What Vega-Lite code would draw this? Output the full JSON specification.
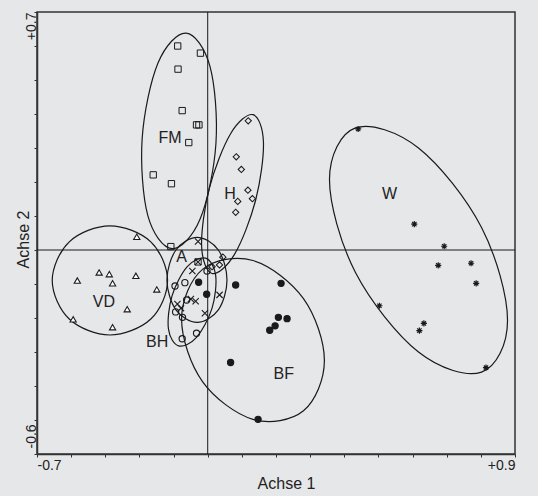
{
  "$schema": "https://vega.github.io/schema/vega-lite/v6.json",
  "width": 478,
  "height": 442,
  "autosize": {"type": "none"},
  "padding": {"left": 37, "top": 12, "right": 23, "bottom": 42},
  "background": "#e6e7e9",
  "config": {
    "view": {"stroke": "#333333", "strokeWidth": 1.5, "fill": "#e6e7e9"},
    "font": "Liberation Sans"
  },
  "datasets": {
    "pts": [
      {"grp": "FM", "x": -0.229, "y": 0.600}, {"grp": "FM", "x": -0.153, "y": 0.579}, {"grp": "FM", "x": -0.228, "y": 0.532},
      {"grp": "FM", "x": -0.214, "y": 0.410}, {"grp": "FM", "x": -0.166, "y": 0.368}, {"grp": "FM", "x": -0.158, "y": 0.368},
      {"grp": "FM", "x": -0.192, "y": 0.316}, {"grp": "FM", "x": -0.311, "y": 0.221}, {"grp": "FM", "x": -0.250, "y": 0.195},
      {"grp": "FM", "x": -0.252, "y": 0.010}, {"grp": "FM", "x": -0.161, "y": -0.035},
      {"grp": "H", "x": 0.007, "y": 0.380}, {"grp": "H", "x": -0.033, "y": 0.274}, {"grp": "H", "x": -0.016, "y": 0.237},
      {"grp": "H", "x": 0.006, "y": 0.176}, {"grp": "H", "x": 0.021, "y": 0.151}, {"grp": "H", "x": -0.028, "y": 0.143},
      {"grp": "H", "x": -0.035, "y": 0.111}, {"grp": "H", "x": -0.078, "y": -0.021}, {"grp": "H", "x": -0.089, "y": -0.044},
      {"grp": "H", "x": -0.114, "y": -0.049},
      {"grp": "VD", "x": -0.366, "y": 0.039}, {"grp": "VD", "x": -0.492, "y": -0.066}, {"grp": "VD", "x": -0.458, "y": -0.071},
      {"grp": "VD", "x": -0.565, "y": -0.090}, {"grp": "VD", "x": -0.369, "y": -0.076}, {"grp": "VD", "x": -0.447, "y": -0.098},
      {"grp": "VD", "x": -0.299, "y": -0.116}, {"grp": "VD", "x": -0.398, "y": -0.174}, {"grp": "VD", "x": -0.579, "y": -0.204},
      {"grp": "VD", "x": -0.447, "y": -0.227},
      {"grp": "A", "x": -0.161, "y": 0.025}, {"grp": "A", "x": -0.161, "y": -0.035}, {"grp": "A", "x": -0.180, "y": -0.062},
      {"grp": "A", "x": -0.089, "y": -0.132}, {"grp": "A", "x": -0.185, "y": -0.144}, {"grp": "A", "x": -0.169, "y": -0.151},
      {"grp": "A", "x": -0.230, "y": -0.159}, {"grp": "A", "x": -0.218, "y": -0.171}, {"grp": "A", "x": -0.138, "y": -0.186},
      {"grp": "BH", "x": -0.238, "y": -0.106}, {"grp": "BH", "x": -0.205, "y": -0.096}, {"grp": "BH", "x": -0.199, "y": -0.147},
      {"grp": "BH", "x": -0.236, "y": -0.182}, {"grp": "BH", "x": -0.213, "y": -0.198}, {"grp": "BH", "x": -0.166, "y": -0.245},
      {"grp": "BH", "x": -0.214, "y": -0.261}, {"grp": "BH", "x": -0.131, "y": -0.062},
      {"grp": "BF", "x": -0.159, "y": -0.095}, {"grp": "BF", "x": -0.132, "y": -0.130}, {"grp": "BF", "x": -0.035, "y": -0.103},
      {"grp": "BF", "x": 0.117, "y": -0.098}, {"grp": "BF", "x": 0.108, "y": -0.198}, {"grp": "BF", "x": 0.137, "y": -0.202},
      {"grp": "BF", "x": 0.097, "y": -0.223}, {"grp": "BF", "x": 0.079, "y": -0.236}, {"grp": "BF", "x": -0.052, "y": -0.331},
      {"grp": "BF", "x": 0.040, "y": -0.498},
      {"grp": "W", "x": 0.375, "y": 0.356}, {"grp": "W", "x": 0.563, "y": 0.076}, {"grp": "W", "x": 0.663, "y": 0.011},
      {"grp": "W", "x": 0.643, "y": -0.045}, {"grp": "W", "x": 0.753, "y": -0.039}, {"grp": "W", "x": 0.770, "y": -0.098},
      {"grp": "W", "x": 0.446, "y": -0.164}, {"grp": "W", "x": 0.595, "y": -0.216}, {"grp": "W", "x": 0.580, "y": -0.237},
      {"grp": "W", "x": 0.803, "y": -0.346}
    ],
    "ell": [
      {"e": "FM", "k": 0, "x": -0.201, "y": 0.638}, {"e": "FM", "k": 1, "x": -0.121, "y": 0.540},
      {"e": "FM", "k": 2, "x": -0.101, "y": 0.314}, {"e": "FM", "k": 3, "x": -0.154, "y": 0.091},
      {"e": "FM", "k": 4, "x": -0.248, "y": 0.004}, {"e": "FM", "k": 5, "x": -0.329, "y": 0.101},
      {"e": "FM", "k": 6, "x": -0.348, "y": 0.328}, {"e": "FM", "k": 7, "x": -0.295, "y": 0.550},
      {"e": "H", "k": 0, "x": 0.023, "y": 0.398}, {"e": "H", "k": 1, "x": 0.058, "y": 0.317},
      {"e": "H", "k": 2, "x": 0.032, "y": 0.147}, {"e": "H", "k": 3, "x": -0.039, "y": -0.013},
      {"e": "H", "k": 4, "x": -0.114, "y": -0.069}, {"e": "H", "k": 5, "x": -0.149, "y": 0.012},
      {"e": "H", "k": 6, "x": -0.123, "y": 0.182}, {"e": "H", "k": 7, "x": -0.052, "y": 0.342},
      {"e": "VD", "k": 0, "x": -0.456, "y": 0.071}, {"e": "VD", "k": 1, "x": -0.319, "y": 0.024},
      {"e": "VD", "k": 2, "x": -0.263, "y": -0.090}, {"e": "VD", "k": 3, "x": -0.319, "y": -0.203},
      {"e": "VD", "k": 4, "x": -0.456, "y": -0.250}, {"e": "VD", "k": 5, "x": -0.592, "y": -0.203},
      {"e": "VD", "k": 6, "x": -0.649, "y": -0.090}, {"e": "VD", "k": 7, "x": -0.592, "y": 0.024},
      {"e": "A", "k": 0, "x": -0.164, "y": 0.037}, {"e": "A", "k": 1, "x": -0.093, "y": 0.000},
      {"e": "A", "k": 2, "x": -0.064, "y": -0.088}, {"e": "A", "k": 3, "x": -0.093, "y": -0.176},
      {"e": "A", "k": 4, "x": -0.164, "y": -0.213}, {"e": "A", "k": 5, "x": -0.235, "y": -0.176},
      {"e": "A", "k": 6, "x": -0.265, "y": -0.088}, {"e": "A", "k": 7, "x": -0.235, "y": 0.000},
      {"e": "BH", "k": 0, "x": -0.136, "y": -0.024}, {"e": "BH", "k": 1, "x": -0.102, "y": -0.074},
      {"e": "BH", "k": 2, "x": -0.114, "y": -0.171}, {"e": "BH", "k": 3, "x": -0.166, "y": -0.257},
      {"e": "BH", "k": 4, "x": -0.226, "y": -0.282}, {"e": "BH", "k": 5, "x": -0.260, "y": -0.232},
      {"e": "BH", "k": 6, "x": -0.248, "y": -0.135}, {"e": "BH", "k": 7, "x": -0.197, "y": -0.049},
      {"e": "BF", "k": 0, "x": 0.262, "y": -0.325}, {"e": "BF", "k": 1, "x": 0.192, "y": -0.473},
      {"e": "BF", "k": 2, "x": 0.023, "y": -0.498}, {"e": "BF", "k": 3, "x": -0.146, "y": -0.387},
      {"e": "BF", "k": 4, "x": -0.216, "y": -0.204}, {"e": "BF", "k": 5, "x": -0.146, "y": -0.057},
      {"e": "BF", "k": 6, "x": 0.023, "y": -0.031}, {"e": "BF", "k": 7, "x": 0.192, "y": -0.143},
      {"e": "W", "k": 0, "x": 0.875, "y": -0.207}, {"e": "W", "k": 1, "x": 0.788, "y": -0.359},
      {"e": "W", "k": 2, "x": 0.577, "y": -0.300}, {"e": "W", "k": 3, "x": 0.366, "y": -0.066},
      {"e": "W", "k": 4, "x": 0.279, "y": 0.207}, {"e": "W", "k": 5, "x": 0.366, "y": 0.359},
      {"e": "W", "k": 6, "x": 0.577, "y": 0.300}, {"e": "W", "k": 7, "x": 0.788, "y": 0.066}
    ],
    "labels": [
      {"t": "FM", "x": -0.255, "y": 0.329}, {"t": "H", "x": -0.054, "y": 0.165},
      {"t": "VD", "x": -0.476, "y": -0.153}, {"t": "A", "x": -0.216, "y": -0.022},
      {"t": "BH", "x": -0.298, "y": -0.272}, {"t": "BF", "x": 0.126, "y": -0.366},
      {"t": "W", "x": 0.480, "y": 0.165}
    ]
  },
  "encoding": {
    "x": {
      "field": "x", "type": "quantitative",
      "scale": {"domain": [-0.7, 0.9], "nice": false, "zero": false},
      "axis": {
        "title": "Achse 1",
        "values": [-0.7, -0.585714, -0.471429, -0.357143, -0.242857, -0.128571, -0.014286, 0.1, 0.214286, 0.328571, 0.442857, 0.557143, 0.671429, 0.785714, 0.9],
        "labelExpr": "datum.value < -0.69 ? '-0.7' : (datum.value > 0.89 ? '+0.9' : '')",
        "labelFlush": true, "labelOverlap": false, "grid": false,
        "tickSize": 3, "tickColor": "#333333", "domainColor": "#333333", "domainWidth": 1.5,
        "labelPadding": 1, "labelFontSize": 14, "labelColor": "#222222", "labelFont": "Liberation Sans",
        "titleFont": "Liberation Sans", "titleFontSize": 16, "titleFontWeight": "normal", "titleColor": "#222222",
        "titleX": 249, "titleY": 34, "titleBaseline": "alphabetic", "titleAlign": "center"
      }
    },
    "y": {
      "field": "y", "type": "quantitative",
      "scale": {"domain": [-0.6, 0.7], "nice": false, "zero": false},
      "axis": {
        "title": "Achse 2",
        "values": [-0.6, -0.5, -0.4, -0.3, -0.2, -0.1, 0, 0.1, 0.2, 0.3, 0.4, 0.5, 0.6, 0.7],
        "labelExpr": "datum.value > 0.69 ? '+0.7' : (datum.value < -0.59 ? '-0.6' : '')",
        "labelAngle": -90,
        "labelAlign": {"condition": {"test": "datum.value > 0", "value": "right"}, "value": "left"},
        "labelOffset": {"condition": {"test": "datum.value < 0", "value": -6}, "value": 0},
        "labelBaseline": "alphabetic",
        "labelOverlap": false, "grid": false,
        "tickSize": 3, "tickColor": "#333333", "domainColor": "#333333", "domainWidth": 1.5,
        "labelPadding": -1, "labelFontSize": 14, "labelColor": "#222222", "labelFont": "Liberation Sans",
        "titleFont": "Liberation Sans", "titleFontSize": 16, "titleFontWeight": "normal", "titleColor": "#222222",
        "titleX": -9, "titleY": 227, "titleAngle": -90, "titleBaseline": "alphabetic", "titleAlign": "center"
      }
    }
  },
  "layer": [
    {
      "data": {"values": [{"v": -0.128571}]},
      "mark": {"type": "rule", "color": "#1a1a1a", "strokeWidth": 1},
      "encoding": {"x": {"field": "v", "type": "quantitative"}, "y": null}
    },
    {
      "data": {"values": [{"v": 0}]},
      "mark": {"type": "rule", "color": "#1a1a1a", "strokeWidth": 1},
      "encoding": {"y": {"field": "v", "type": "quantitative"}, "x": null}
    },
    {
      "data": {"name": "ell"},
      "mark": {"type": "line", "interpolate": "cardinal-closed", "color": "#1a1a1a", "strokeWidth": 1.2},
      "encoding": {
        "detail": {"field": "e"},
        "order": {"field": "k", "type": "quantitative"}
      }
    },
    {
      "data": {"name": "pts"},
      "mark": {"type": "point", "filled": false, "stroke": "#1a1a1a", "strokeWidth": 1, "opacity": 1},
      "encoding": {
        "shape": {
          "field": "grp", "type": "nominal", "legend": null,
          "scale": {
            "domain": ["FM", "H", "VD", "A", "BH", "BF", "W"],
            "range": ["square", "diamond", "triangle-up", "M-1,-1L1,1M-1,1L1,-1", "circle", "circle", "M-1,0L1,0M0,-1L0,1M-0.7,-0.7L0.7,0.7M-0.7,0.7L0.7,-0.7"]
          }
        },
        "fill": {
          "field": "grp", "type": "nominal", "legend": null,
          "scale": {
            "domain": ["FM", "H", "VD", "A", "BH", "BF", "W"],
            "range": ["transparent", "transparent", "#ffffff", "transparent", "transparent", "#1a1a1a", "transparent"]
          }
        },
        "size": {
          "field": "grp", "type": "nominal", "legend": null,
          "scale": {
            "domain": ["FM", "H", "VD", "A", "BH", "BF", "W"],
            "range": [40, 38, 22, 40, 30, 45, 50]
          }
        },
        "strokeWidth": {
          "field": "grp", "type": "nominal", "legend": null,
          "scale": {
            "domain": ["FM", "H", "VD", "A", "BH", "BF", "W"],
            "range": [1, 1.2, 1.3, 1, 1, 1, 2]
          }
        }
      }
    },
    {
      "data": {"name": "labels"},
      "mark": {"type": "text", "font": "Liberation Sans", "fontSize": 16, "color": "#222222", "align": "center", "baseline": "middle"},
      "encoding": {"text": {"field": "t"}}
    }
  ]
}
